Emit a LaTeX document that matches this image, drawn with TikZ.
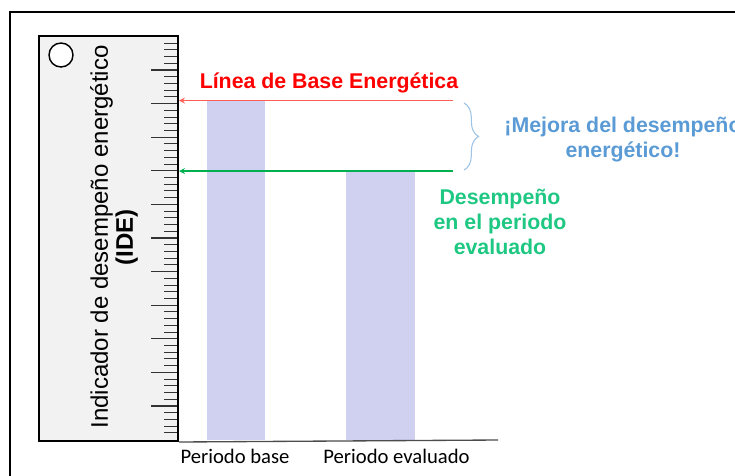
\documentclass[tikz,border=0pt]{standalone}
\usepackage{fontspec}
\setmainfont{Liberation Sans}
\newfontfamily\calibri{Carlito}
\usetikzlibrary{arrows,positioning,decorations.pathreplacing}

\definecolor{rulerfill}{RGB}{242,242,242}
\definecolor{barfill}{RGB}{208,208,240}
\definecolor{basered}{RGB}{255,0,0}
\definecolor{baseredline}{RGB}{255,95,85}
\definecolor{evalline}{RGB}{0,176,80}
\definecolor{evaltext}{RGB}{30,200,130}
\definecolor{mejorablue}{RGB}{91,155,213}
\definecolor{bracecol}{RGB}{157,195,230}

\begin{document}
\begin{tikzpicture}[
    x=0.75pt, y=-0.75pt,
    ruler/.style={rectangle, draw=black, fill=rulerfill, line width=1.5pt, minimum width=104.25pt, minimum height=303.75pt, anchor=north west, inner sep=0pt},
    bar/.style={rectangle, fill=barfill, minimum width=43.5pt, anchor=south, inner sep=0pt},
    period/.style={font=\calibri\fontsize{15.5}{18}\selectfont, anchor=base},
    bigtext/.style={font=\bfseries\fontsize{16}{18.75}\selectfont, text centered, align=center},
    arrow/.style={->,>=stealth},
    tick/.style={line width=0.8pt, black!80}
]

\useasboundingbox (0,0) rectangle (735,475);

% Slide frame
\draw[line width=1pt] (10,12) rectangle (760,500);

% Ruler
\node[ruler] (ruler) at (38,35) {};
\node[circle, draw, line width=1.1pt, fill=white, minimum size=18pt, inner sep=0pt] (hole) at (61,55) {};
\foreach \i in {1,...,59}{
    \pgfmathsetmacro{\ty}{439.6-\i*6.72}
    \pgfmathtruncatemacro{\long}{mod(\i,5)==0 ? 1 : 0}
    \ifnum\long=1
        \draw[tick] (177,\ty) -- ++(-26,0);
    \else
        \draw[tick] (177,\ty) -- ++(-13,0);
    \fi
}
\node[rotate=90, align=center, font=\fontsize{18}{18.75}\selectfont] (ide) at (114,237) {Indicador de desempeño energético\\\textbf{(IDE)}};

% Bars
\node[bar, minimum height=255pt] (barbase) at (236,440) {};
\node[bar, minimum height=202.5pt, minimum width=51.75pt] (bareval) at (380.5,440) {};

% Axis
\coordinate (axisend) at (498,440);
\draw[line width=1pt, black!70] (ruler.south east) -- (axisend);
\node[period] (lblbase) at (235,463) {Periodo base};
\node[period] (lbleval) at (396.5,463) {Periodo evaluado};

% Base line
\coordinate (baseend) at (453,100.5);
\draw[arrow, baseredline, line width=1pt] (baseend) -- (baseend -| ruler.east);
\node[bigtext, text=basered] (basetext) at (329,83) {Línea de Base Energética};

% Evaluated line
\coordinate (evalend) at (453,171);
\draw[arrow, evalline, line width=1pt] (evalend) -- (evalend -| ruler.east);
\node[bigtext, text=evaltext] (evaltxt) at (500,222) {Desempeño\\en el periodo\\evaluado};

% Improvement brace
\coordinate (bracetop) at (464,103);
\coordinate (bracebot) at (464,170);
\draw[bracecol, line width=0.8pt, decorate, decoration={brace, amplitude=11pt}] (bracetop) -- (bracebot);
\node[bigtext, text=mejorablue] (mejora) at (623,140) {¡Mejora del desempeño\\energético!};

\end{tikzpicture}
\end{document}
